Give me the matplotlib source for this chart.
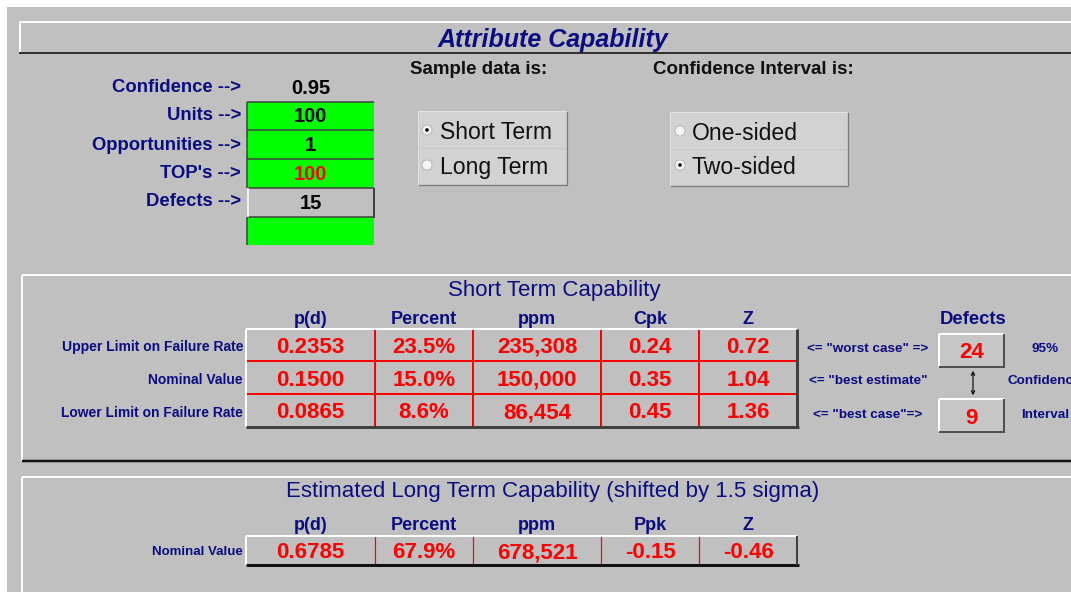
import matplotlib
matplotlib.use("Agg")
import matplotlib.pyplot as plt
from matplotlib.patches import Rectangle, Circle

plt.rcParams['font.family'] = ['Liberation Sans', 'DejaVu Sans']

# ---------------- data ----------------
title = "Attribute Capability"
input_labels = ["Confidence -->", "Units -->", "Opportunities -->", "TOP's -->", "Defects -->"]
confidence = 0.95
units = 100
opportunities = 1
tops = 100
defects = 15

sample_options = ["Short Term", "Long Term"]
sample_selected = 0
ci_options = ["One-sided", "Two-sided"]
ci_selected = 1

st_title = "Short Term Capability"
st_headers = ["p(d)", "Percent", "ppm", "Cpk", "Z"]
st_rows = ["Upper Limit on Failure Rate", "Nominal Value", "Lower Limit on Failure Rate"]
st_pd = [0.2353, 0.1500, 0.0865]
st_percent = [23.5, 15.0, 8.6]
st_ppm = [235308, 150000, 86454]
st_cpk = [0.24, 0.35, 0.45]
st_z = [0.72, 1.04, 1.36]
st_notes = ['<= "worst case" =>', '<= "best estimate"', '<= "best case"=>']
defect_bounds = [24, 9]
ci_side_text = ["95%", "Confidence", "Interval"]

lt_title = "Estimated Long Term Capability (shifted by 1.5 sigma)"
lt_headers = ["p(d)", "Percent", "ppm", "Ppk", "Z"]
lt_rows = ["Nominal Value"]
lt_pd = [0.6785]
lt_percent = [67.9]
lt_ppm = [678521]
lt_ppk = [-0.15]
lt_z = [-0.46]

# ---------------- style ----------------
NAVY = '#0c0c82'
RED = '#ff0000'
GRAY = '#c0c0c0'
DARK = '#303030'
GREEN = '#00ff00'
PX = 0.72  # points per pixel at dpi 100

fig = plt.figure(figsize=(10.71, 5.92), dpi=100, facecolor='white')
ax = fig.add_axes([0, 0, 1, 1])
ax.set_xlim(0, 1071)
ax.set_ylim(592, 0)
ax.axis('off')


def rect(x0, y0, x1, y1, fc, ec='none', lw=0, z=1):
    ax.add_patch(Rectangle((x0, y0), x1 - x0, y1 - y0, facecolor=fc, edgecolor=ec, linewidth=lw, zorder=z))


def line(xs, ys, color, px=1.0, z=3):
    ax.plot(xs, ys, color=color, linewidth=px * PX, solid_capstyle='butt', zorder=z)


def txt(x, y, s, size, color=NAVY, weight='bold', ha='center', style='normal', **kw):
    ax.text(x, y, s, fontsize=size, color=color, fontweight=weight, ha=ha, va='center_baseline',
            fontstyle=style, zorder=5, **kw)


# background
rect(7, 7, 1071, 592, GRAY, z=0)

# title bar
line([19, 1071], [22, 22], 'white', 2)
line([20, 20], [22, 53], 'white', 2)
line([19, 1071], [53, 53], DARK, 2)
txt(553, 38, title, 18, style='italic')

# input block
label_y = [85, 114, 143, 171, 199]
for lab, y in zip(input_labels, label_y):
    txt(241, y, lab, 13.3, ha='right')
txt(311, 87, f"{confidence:.2f}", 14.5, color='black')

cell_x0, cell_x1 = 247, 374
row_edges = [102, 130, 159, 188, 217, 245]
fills = [GREEN, GREEN, GREEN, GRAY, GREEN]
for i, fc in enumerate(fills):
    rect(cell_x0, row_edges[i], cell_x1, row_edges[i + 1], fc)
for y in row_edges[:4]:
    line([cell_x0, cell_x1], [y, y], '#404040', 1.5)
line([cell_x0, cell_x1], [217, 217], '#404040', 1.5)
line([cell_x0, cell_x0], [102, 188], '#404040', 1.5)
line([cell_x0, cell_x0], [217, 245], '#404040', 1.5)
line([cell_x0 + 0.5, cell_x0 + 0.5], [188, 217], 'white', 1.5)
line([cell_x1, cell_x1], [188, 218], '#404040', 2)
input_vals = [(str(units), 'black'), (str(opportunities), 'black'), (str(tops), RED), (str(defects), 'black')]
for (s, c), y0, y1 in zip(input_vals, row_edges[:4], row_edges[1:5]):
    txt((cell_x0 + cell_x1) / 2, (y0 + y1) / 2 - 1, s, 14.5, color=c)

# option groups
txt(410, 68, "Sample data is:", 13.5, color='#111111', ha='left')
txt(653, 68, "Confidence Interval is:", 13.5, color='#111111', ha='left')


def radio_group(x0, y0, x1, y1, options, selected, cx, tx, ys):
    rect(x0, y0, x1, y1, '#d2d2d2', z=1)
    line([x0, x1], [(y0 + y1) / 2, (y0 + y1) / 2], '#c8c8c8', 1)
    line([x1, x1], [y0, y1], '#7a7a7a', 1.3)
    line([x0, x1], [y1, y1], '#7a7a7a', 1.3)
    line([x0, x0], [y0, y1], '#e4e4e4', 1)
    line([x0, x1], [y0, y0], '#e4e4e4', 1)
    for k, (opt, y) in enumerate(zip(options, ys)):
        ax.add_patch(Circle((cx, y), 5, facecolor='#f4f4f4', edgecolor='#b0b0b0', linewidth=0.6, zorder=4))
        if k == selected:
            ax.add_patch(Circle((cx, y), 1.8, facecolor='black', edgecolor='none', zorder=5))
        txt(tx, y, opt, 16.6, color='#111111', weight='normal', ha='left')


radio_group(418, 111, 567, 185, sample_options, sample_selected, 427, 440, [130, 165])
radio_group(670, 112, 848, 186, ci_options, ci_selected, 680, 692, [131, 165])

# ---------------- short term section ----------------
line([22, 1071], [275, 275], 'white', 2)
line([22, 22], [275, 461], 'white', 2)
line([22, 1071], [461, 461], '#111111', 2.5)
txt(554, 288, st_title, 16, weight='normal')

col_edges = [246, 375, 473, 601, 699, 797]
col_centers = [(a + b) / 2 for a, b in zip(col_edges[:-1], col_edges[1:])]
for h, xc in zip(st_headers, col_centers):
    txt(xc, 318, h, 13)

st_y_edges = [329, 361, 394, 427]
st_cols = [
    [f"{v:.4f}" for v in st_pd],
    [f"{v:.1f}%" for v in st_percent],
    [f"{v:,}" for v in st_ppm],
    [f"{v:.2f}" for v in st_cpk],
    [f"{v:.2f}" for v in st_z],
]
for r, lab in enumerate(st_rows):
    yc = (st_y_edges[r] + st_y_edges[r + 1]) / 2
    txt(243, yc + 1, lab, 10, ha='right')
    for c in range(5):
        txt(col_centers[c], yc, st_cols[c][r], 16, color=RED)
# internal red grid
for x in col_edges[1:-1]:
    line([x, x], [st_y_edges[0], st_y_edges[-1]], RED, 2)
for y in st_y_edges[1:-1]:
    line([col_edges[0], col_edges[-1]], [y, y], RED, 2)
line([col_edges[0], col_edges[-1]], [st_y_edges[0], st_y_edges[0]], 'white', 2)
line([col_edges[0], col_edges[0]], [st_y_edges[0], st_y_edges[-1]], 'white', 2)
line([col_edges[0], col_edges[-1] + 1.5], [st_y_edges[-1], st_y_edges[-1]], '#404040', 3)
line([col_edges[-1], col_edges[-1]], [st_y_edges[0], st_y_edges[-1]], '#404040', 3)

# notes
for note, y in zip(st_notes, [348, 380, 413]):
    txt(868, y, note, 9.7)

# defects buttons
txt(973, 318, "Defects", 13.3)
for val, (y0, y1) in zip(defect_bounds, [(334, 367), (399, 432)]):
    rect(939, y0, 1004, y1, '#c6c6c6', z=2)
    line([939, 1004], [y0, y0], 'white', 2)
    line([939, 939], [y0, y1], 'white', 2)
    line([939, 1005], [y1, y1], '#505050', 2)
    line([1004, 1004], [y0, y1], '#505050', 2)
    txt(971.5, (y0 + y1) / 2, str(val), 16, color=RED)
ax.annotate('', xy=(973, 368), xytext=(973, 398),
            arrowprops=dict(arrowstyle='<->', color='black', lw=0.8, mutation_scale=6), zorder=4)
txt(1045, 348, ci_side_text[0], 9.7)
txt(1007, 380, ci_side_text[1], 9.7, ha='left')
txt(1021, 413, ci_side_text[2], 9.7, ha='left')

# ---------------- long term section ----------------
line([22, 1071], [477, 477], 'white', 2)
line([22, 22], [477, 592], 'white', 2)
txt(553, 489, lt_title, 16, weight='normal')
for h, xc in zip(lt_headers, col_centers):
    txt(xc, 523, h, 13)

lt_y_edges = [536, 565]
lt_cols = [
    [f"{v:.4f}" for v in lt_pd],
    [f"{v:.1f}%" for v in lt_percent],
    [f"{v:,}" for v in lt_ppm],
    [f"{v:.2f}" for v in lt_ppk],
    [f"{v:.2f}" for v in lt_z],
]
for r, lab in enumerate(lt_rows):
    yc = (lt_y_edges[r] + lt_y_edges[r + 1]) / 2
    txt(243, yc, lab, 9.5, ha='right')
    for c in range(5):
        txt(col_centers[c], yc, lt_cols[c][r], 16, color=RED)
for x in col_edges[1:-1]:
    line([x, x], lt_y_edges, RED, 1.2)
line([col_edges[0], col_edges[-1]], [536, 536], 'white', 2)
line([col_edges[0], col_edges[0]], lt_y_edges, 'white', 2)
line([col_edges[0], col_edges[-1] + 1.5], [565, 565], '#111111', 3)
line([col_edges[-1], col_edges[-1]], lt_y_edges, '#404040', 2)

fig.savefig("out.png", dpi=100, facecolor='white')
